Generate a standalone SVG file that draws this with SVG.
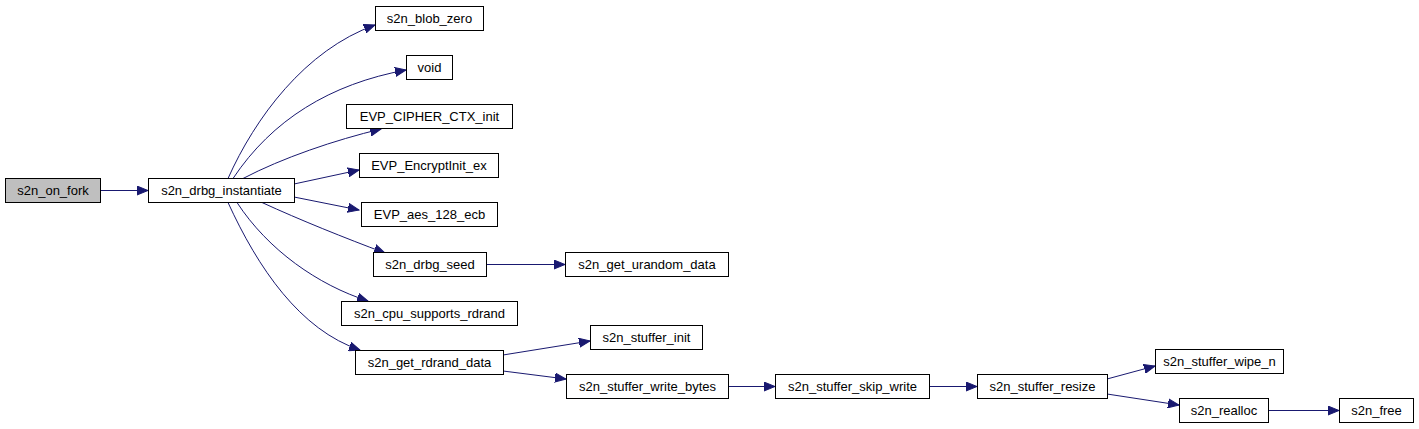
<svg xmlns="http://www.w3.org/2000/svg" width="1419" height="429" viewBox="0 0 1419 429">
<style>
.n rect{fill:#fff;stroke:#000;stroke-width:1}
.n.root rect{fill:#bfbfbf}
.n text{font-family:"Liberation Sans",Arial,sans-serif;font-size:13px;fill:#000;text-anchor:middle}
.e path{fill:none;stroke:#191970;stroke-width:1;marker-end:url(#ah)}
</style>
<defs>
<marker id="ah" markerUnits="userSpaceOnUse" markerWidth="12" markerHeight="10" refX="11" refY="5" orient="auto">
<path d="M0,0.5 L11,5 L0,9.5 Z" fill="#191970" stroke="#191970"/>
</marker>
</defs>
<rect width="1419" height="429" fill="#fff"/>
<g id="edges" class="e">
<path d="M100.5,190.5 L148,190.5"/>
<path d="M228,178.5 C255,118 305,50 375,25"/>
<path d="M233,178.5 C272,120 330,84 406,70"/>
<path d="M243,178.5 C282,158 335,140 381,129"/>
<path d="M294,184 L359,170"/>
<path d="M294,197 L359,210"/>
<path d="M262,202.5 C300,220 345,238 385,253"/>
<path d="M237,202.5 C268,250 318,285 368,301"/>
<path d="M228,202.5 C258,268 300,330 360,350"/>
<path d="M486,264.5 L565,264.5"/>
<path d="M503,355 L590,341"/>
<path d="M503,371 L566,379"/>
<path d="M728,386.5 L775,386.5"/>
<path d="M929,386.5 L977,386.5"/>
<path d="M1107,379 L1155,366"/>
<path d="M1107,394 L1179,405"/>
<path d="M1268,410.5 L1339,410.5"/>
</g>
<g id="s2n_on_fork" class="n root"><rect x="5.5" y="178.5" width="95" height="24"/><text x="53" y="195">s2n_on_fork</text></g>
<g id="s2n_drbg_instantiate" class="n"><rect x="148.5" y="178.5" width="146" height="24"/><text x="221.5" y="195">s2n_drbg_instantiate</text></g>
<g id="s2n_blob_zero" class="n"><rect x="375.5" y="6.5" width="108" height="24"/><text x="429.5" y="23">s2n_blob_zero</text></g>
<g id="void" class="n"><rect x="406.5" y="55.5" width="46" height="24"/><text x="429.5" y="72">void</text></g>
<g id="EVP_CIPHER_CTX_init" class="n"><rect x="346.5" y="104.5" width="166" height="24"/><text x="429.5" y="121">EVP_CIPHER_CTX_init</text></g>
<g id="EVP_EncryptInit_ex" class="n"><rect x="359.5" y="153.5" width="139" height="24"/><text x="429" y="170">EVP_EncryptInit_ex</text></g>
<g id="EVP_aes_128_ecb" class="n"><rect x="361.5" y="202.5" width="136" height="24"/><text x="429.5" y="219">EVP_aes_128_ecb</text></g>
<g id="s2n_drbg_seed" class="n"><rect x="373.5" y="252.5" width="113" height="24"/><text x="430" y="269">s2n_drbg_seed</text></g>
<g id="s2n_cpu_supports_rdrand" class="n"><rect x="341.5" y="301.5" width="176" height="24"/><text x="429.5" y="318">s2n_cpu_supports_rdrand</text></g>
<g id="s2n_get_rdrand_data" class="n"><rect x="355.5" y="350.5" width="148" height="24"/><text x="429.5" y="367">s2n_get_rdrand_data</text></g>
<g id="s2n_get_urandom_data" class="n"><rect x="565.5" y="252.5" width="163" height="24"/><text x="647" y="269">s2n_get_urandom_data</text></g>
<g id="s2n_stuffer_init" class="n"><rect x="590.5" y="325.5" width="112" height="24"/><text x="646.5" y="342">s2n_stuffer_init</text></g>
<g id="s2n_stuffer_write_bytes" class="n"><rect x="566.5" y="374.5" width="162" height="24"/><text x="647.5" y="391">s2n_stuffer_write_bytes</text></g>
<g id="s2n_stuffer_skip_write" class="n"><rect x="775.5" y="374.5" width="154" height="24"/><text x="852.5" y="391">s2n_stuffer_skip_write</text></g>
<g id="s2n_stuffer_resize" class="n"><rect x="977.5" y="374.5" width="130" height="24"/><text x="1042.5" y="391">s2n_stuffer_resize</text></g>
<g id="s2n_stuffer_wipe_n" class="n"><rect x="1155.5" y="349.5" width="128" height="24"/><text x="1219.5" y="366">s2n_stuffer_wipe_n</text></g>
<g id="s2n_realloc" class="n"><rect x="1179.5" y="398.5" width="89" height="24"/><text x="1224" y="415">s2n_realloc</text></g>
<g id="s2n_free" class="n"><rect x="1339.5" y="398.5" width="74" height="24"/><text x="1376.5" y="415">s2n_free</text></g>
</svg>
